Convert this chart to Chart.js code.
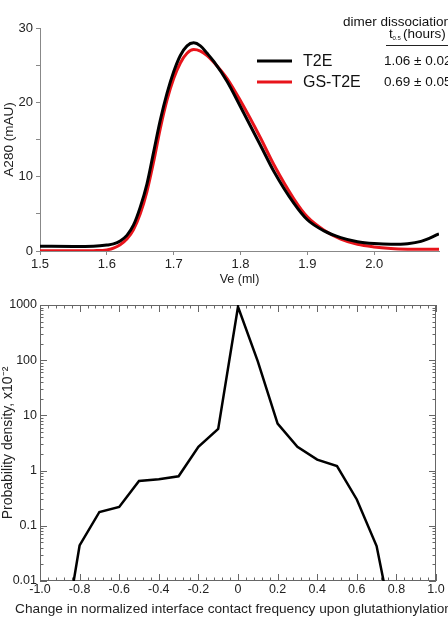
<!DOCTYPE html>
<html>
<head>
<meta charset="utf-8">
<script src="https://cdn.jsdelivr.net/npm/chart.js@4.4.1/dist/chart.umd.min.js"></script>
<style>
  html, body { margin: 0; padding: 0; background: #fff; }
  .box { position: relative; width: 448px; }
  #top { height: 290px; }
  #bottom { height: 328px; }
</style>
</head>
<body>
<div class="box" id="top"><canvas id="elutionChart"></canvas></div>
<div class="box" id="bottom"><canvas id="contactChart"></canvas></div>
<script>
// top panel: elution profiles
const veMl = [1.50, 1.55, 1.58, 1.60, 1.61, 1.62, 1.63, 1.64, 1.65, 1.66, 1.67, 1.68, 1.69, 1.70,
  1.71, 1.72, 1.73, 1.74, 1.75, 1.76, 1.78, 1.80, 1.83, 1.85, 1.88, 1.90, 1.925, 1.95, 1.975,
  2.00, 2.025, 2.05, 2.07, 2.097];
const t2e = [0.65, 0.62, 0.65, 0.8, 0.95, 1.35, 2.1, 3.5, 5.9, 9.0, 13.3, 17.6, 21.2, 24.1,
  26.3, 27.6, 28.0, 27.6, 26.6, 25.5, 22.8, 19.4, 14.2, 10.7, 6.4, 4.2, 2.7, 1.8, 1.25,
  1.0, 0.9, 0.98, 1.3, 2.3];
const gsT2e = [0.02, 0.02, 0.05, 0.15, 0.4, 0.85, 1.6, 2.9, 5.0, 8.0, 12.0, 16.5, 20.3, 23.2,
  25.3, 26.6, 27.1, 26.9, 26.3, 25.4, 23.2, 20.2, 15.2, 11.6, 7.0, 4.6, 2.8, 1.6, 0.9,
  0.55, 0.35, 0.25, 0.22, 0.22];
const seriesNames = ["T2E", "GS-T2E"];
const halfLives = ["1.06 \u00b1 0.02", "0.69 \u00b1 0.05"];

// bottom panel: contact frequency change
const contactChange = [-0.9, -0.8, -0.7, -0.6, -0.5, -0.4, -0.3, -0.2, -0.1, 0,
  0.1, 0.2, 0.3, 0.4, 0.5, 0.6, 0.7, 0.8];
const probDensity = [0.0003, 0.044, 0.178, 0.219, 0.65, 0.70, 0.79, 2.7, 5.7, 930,
  95, 7.1, 2.7, 1.58, 1.21, 0.30, 0.043, 0.0007];
const logTickLabels = ["0.01", "0.1", "1", "10", "100", "1000"];
const contactTitle = "Change in normalized interface contact frequency upon glutathionylation";

const FONT = "'Liberation Sans', Arial, Helvetica, sans-serif";
Chart.defaults.font.family = FONT;
Chart.defaults.font.size = 12.5;
Chart.defaults.color = "#222";
Chart.defaults.animation = false;

const toPoints = (xs, ys) => xs.map((x, i) => ({ x: x, y: ys[i] }));

// legend + half-life table drawn in the top-right corner
const legendTable = {
  id: "legendTable",
  afterDraw(chart) {
    const ctx = chart.ctx;
    const colors = ["#000", "#e8141b"];
    const rows = [61, 82];
    ctx.save();
    ctx.textBaseline = "middle";
    ctx.fillStyle = "#111";
    ctx.font = "13.5px " + FONT;
    ctx.fillText("dimer dissociation", 343, 22);
    ctx.fillText("t", 389, 34);
    ctx.font = "6px " + FONT;
    ctx.fillText("0.5", 392.5, 38);
    ctx.font = "13.5px " + FONT;
    ctx.fillText("(hours)", 403, 34);
    ctx.strokeStyle = "#222";
    ctx.lineWidth = 1;
    ctx.beginPath();
    ctx.moveTo(386, 45.5);
    ctx.lineTo(448, 45.5);
    ctx.stroke();
    seriesNames.forEach((name, i) => {
      ctx.strokeStyle = colors[i];
      ctx.lineWidth = 3;
      ctx.beginPath();
      ctx.moveTo(257, rows[i]);
      ctx.lineTo(292, rows[i]);
      ctx.stroke();
      ctx.font = "16px " + FONT;
      ctx.fillText(name, 303, rows[i] + 1);
      ctx.font = "13.5px " + FONT;
      ctx.fillText(halfLives[i], 384, rows[i]);
    });
    ctx.restore();
  }
};

new Chart(document.getElementById("elutionChart"), {
  type: "line",
  data: {
    datasets: [
      {
        label: seriesNames[0],
        data: toPoints(veMl, t2e),
        borderColor: "#000",
        borderWidth: 3,
        pointRadius: 0,
        cubicInterpolationMode: "monotone"
      },
      {
        label: seriesNames[1],
        data: toPoints(veMl, gsT2e),
        borderColor: "#e8141b",
        borderWidth: 3,
        pointRadius: 0,
        cubicInterpolationMode: "monotone"
      }
    ]
  },
  options: {
    responsive: true,
    maintainAspectRatio: false,
    devicePixelRatio: 1,
    layout: { padding: { top: 28, right: 9, left: 0, bottom: 0 } },
    scales: {
      x: {
        type: "linear",
        min: 1.5,
        max: 2.097,
        grid: { drawOnChartArea: false, tickLength: 4, tickColor: "#888" },
        border: { color: "#888" },
        ticks: {
          stepSize: 0.1,
          includeBounds: false,
          maxRotation: 0,
          padding: 2,
          font: { size: 13 },
          callback: (v) => v.toFixed(1)
        },
        title: { display: true, text: "Ve (ml)", padding: { top: 0, bottom: 3 } },
        afterFit: (scale) => { scale.height = 39; }
      },
      y: {
        min: 0,
        max: 30,
        grid: { drawOnChartArea: false, tickLength: 4, tickColor: "#888" },
        border: { color: "#888" },
        ticks: {
          stepSize: 5,
          padding: 3,
          font: { size: 13 },
          callback: (v) => (v % 10 === 0 ? v : "")
        },
        title: {
          display: true,
          text: "A280 (mAU)",
          font: { size: 13.5 },
          padding: { top: 1, bottom: 0 }
        },
        afterFit: (scale) => { scale.width = 40; }
      }
    },
    plugins: {
      legend: { display: false },
      tooltip: { enabled: false }
    }
  },
  plugins: [legendTable]
});

// boxed frame with inward ticks on all four sides, plus the wide x title
const frameTicks = {
  id: "frameTicks",
  beforeDatasetsDraw(chart) {
    const { ctx, chartArea: a, scales: { x, y } } = chart;
    ctx.save();
    ctx.strokeStyle = "#666";
    ctx.lineWidth = 1;
    ctx.strokeRect(a.left + 0.5, a.top + 0.5, a.right - a.left - 1, a.bottom - a.top - 1);
    ctx.beginPath();
    x.ticks.forEach((t) => {
      const px = Math.round(x.getPixelForValue(t.value)) + 0.5;
      const len = t.label ? 7 : 3.5;
      ctx.moveTo(px, a.bottom);
      ctx.lineTo(px, a.bottom - len);
      ctx.moveTo(px, a.top);
      ctx.lineTo(px, a.top + len);
    });
    y.ticks.forEach((t) => {
      const py = Math.round(y.getPixelForValue(t.value)) + 0.5;
      const len = t.label ? 7 : 3.5;
      ctx.moveTo(a.left, py);
      ctx.lineTo(a.left + len, py);
      ctx.moveTo(a.right, py);
      ctx.lineTo(a.right - len, py);
    });
    ctx.stroke();

    // axis title is wider than the plot, so draw it without Chart.js' maxWidth squeeze
    ctx.fillStyle = "#222";
    ctx.font = "13.65px " + FONT;
    ctx.textAlign = "center";
    ctx.textBaseline = "middle";
    ctx.fillText(contactTitle, 233.5, chart.height - 9);
    ctx.restore();
  }
};

new Chart(document.getElementById("contactChart"), {
  type: "line",
  data: {
    datasets: [{
      data: toPoints(contactChange, probDensity),
      borderColor: "#000",
      borderWidth: 2.5,
      pointRadius: 0,
      tension: 0
    }]
  },
  options: {
    responsive: true,
    maintainAspectRatio: false,
    devicePixelRatio: 1,
    layout: { padding: { top: 15, right: 12, left: 0, bottom: 0 } },
    scales: {
      x: {
        type: "linear",
        min: -1,
        max: 1,
        grid: { display: false, drawTicks: false, tickLength: 0 },
        border: { display: false },
        ticks: {
          stepSize: 0.04,
          autoSkip: false,
          maxRotation: 0,
          padding: 1,
          callback: (v) => {
            const k = Math.round(v * 5);
            if (Math.abs(v * 5 - k) > 1e-6) return "";
            return k === 0 ? "0" : (k / 5).toFixed(1);
          }
        },
        title: { display: false },
        afterFit: (scale) => { scale.height = 37; }
      },
      y: {
        type: "logarithmic",
        min: 0.01,
        max: 1000,
        grid: { display: false, drawTicks: false, tickLength: 0 },
        border: { display: false },
        afterBuildTicks: (scale) => {
          const ticks = [];
          for (let e = -2; e < 3; e++) {
            for (let k = 1; k < 10; k++) ticks.push({ value: k * Math.pow(10, e) });
          }
          ticks.push({ value: 1000 });
          scale.ticks = ticks;
        },
        ticks: {
          autoSkip: false,
          padding: 3,
          callback: (v) => {
            const lab = logTickLabels.find((s) => Math.abs(v / Number(s) - 1) < 1e-9);
            return lab || "";
          }
        },
        title: {
          display: true,
          text: "Probability density, x10\u207b\u00b2",
          font: { size: 14 },
          padding: { top: 0, bottom: 0 }
        },
        afterFit: (scale) => { scale.width = 40; }
      }
    },
    plugins: {
      legend: { display: false },
      tooltip: { enabled: false }
    }
  },
  plugins: [frameTicks]
});
</script>
</body>
</html>
